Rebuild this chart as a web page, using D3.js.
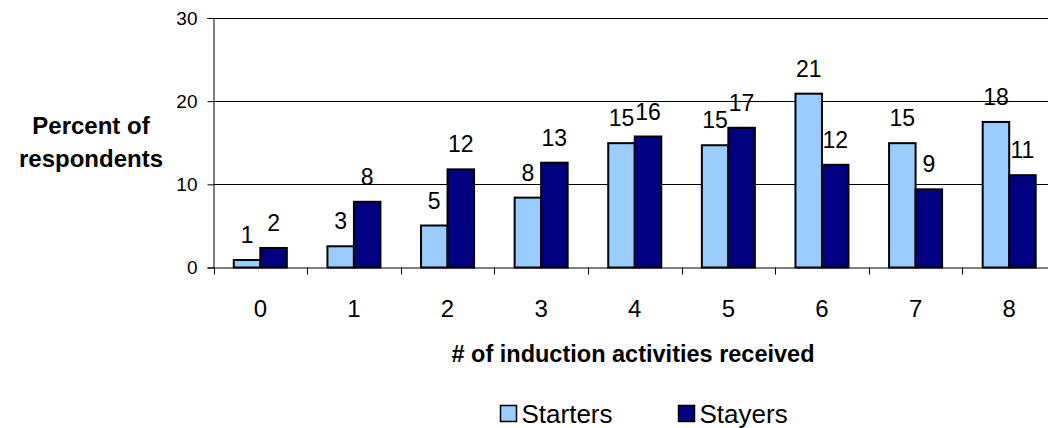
<!DOCTYPE html>
<html>
<head>
<meta charset="utf-8">
<script src="https://cdn.jsdelivr.net/npm/d3@7"></script>
<style>
  html, body { margin: 0; padding: 0; background: #fff; }
  svg { display: block; font-family: Arial, "Liberation Sans", sans-serif; }
</style>
</head>
<body>
<svg id="chart" width="1048" height="428"></svg>
<script>
// Induction activities received, by group (percent of respondents)
const categories = ["0", "1", "2", "3", "4", "5", "6", "7", "8"];
const seriesNames = ["Starters", "Stayers"];
const starters = [0.9, 2.55, 5.05, 8.4, 14.95, 14.7, 20.9, 14.95, 17.5];
const stayers  = [2.35, 7.9, 11.8, 12.6, 15.75, 16.8, 12.35, 9.4, 11.1];
const yTicks = [0, 10, 20, 30];
const colors = ["#99CCFF", "#000080"];

const svg = d3.select("#chart");
const plot = { left: 213.5, top: 18, right: 1056, bottom: 267.5 };

const x = d3.scaleBand().domain(categories).range([plot.left, plot.right]).paddingInner(0).paddingOuter(0);
const inner = d3.scaleBand().domain(seriesNames).range([20.3, x.bandwidth() - 20.3]).padding(0);
const y = d3.scaleLinear().domain([0, 30]).range([plot.bottom, plot.top]);

// horizontal gridlines
svg.append("g")
  .selectAll("line")
  .data(yTicks.filter(d => d > 0))
  .join("line")
  .attr("x1", plot.left).attr("x2", plot.right)
  .attr("y1", d => Math.round(y(d)) + 0.5).attr("y2", d => Math.round(y(d)) + 0.5)
  .attr("stroke", "#000").attr("stroke-width", 1);

// y axis
const yAxis = svg.append("g")
  .attr("transform", `translate(${plot.left},0)`)
  .call(d3.axisLeft(y).tickValues(yTicks).tickSize(6).tickPadding(10).tickFormat(d3.format("d")));
yAxis.select(".domain").attr("stroke", "#000");
yAxis.selectAll("text").attr("font-size", 19).attr("fill", "#000").attr("font-family", "Arial, 'Liberation Sans', sans-serif");

// x axis (ticks at category boundaries)
const xAxisG = svg.append("g").attr("transform", `translate(0,${plot.bottom})`);
xAxisG.append("line")
  .attr("x1", plot.left).attr("x2", plot.right)
  .attr("y1", 0.5).attr("y2", 0.5).attr("stroke", "#000");
xAxisG.selectAll("line.tick")
  .data(categories)
  .join("line")
  .attr("class", "tick")
  .attr("x1", d => Math.round(x(d)) + 0.5).attr("x2", d => Math.round(x(d)) + 0.5)
  .attr("y1", 0).attr("y2", 7).attr("stroke", "#000");
xAxisG.selectAll("text")
  .data(categories)
  .join("text")
  .attr("x", d => x(d) + x.bandwidth() / 2)
  .attr("y", 49)
  .attr("text-anchor", "middle")
  .attr("font-size", 24)
  .text(d => d);

// bars
const rows = categories.map((c, i) => ({ cat: c, values: [starters[i], stayers[i]] }));
const groups = svg.append("g").selectAll("g")
  .data(rows)
  .join("g")
  .attr("transform", d => `translate(${x(d.cat)},0)`);

groups.selectAll("rect")
  .data(d => d.values.map((v, k) => ({ name: seriesNames[k], v, k })))
  .join("rect")
  .attr("x", d => inner(d.name))
  .attr("width", inner.bandwidth())
  .attr("y", d => y(d.v))
  .attr("height", d => y(0) - y(d.v))
  .attr("fill", d => colors[d.k])
  .attr("stroke", "#000")
  .attr("stroke-width", 2);

// value labels
const fmt = d3.format(".0f");
groups.selectAll("text")
  .data(d => d.values.map((v, k) => ({ name: seriesNames[k], v, k })))
  .join("text")
  .attr("x", d => inner(d.name) + inner.bandwidth() / 2)
  .attr("y", d => y(d.v) - 17)
  .attr("text-anchor", "middle")
  .attr("font-size", 23)
  .text(d => fmt(d.v));

// y axis title
const yTitle = svg.append("text")
  .attr("text-anchor", "middle")
  .attr("font-size", 24)
  .attr("font-weight", "bold");
yTitle.append("tspan").attr("x", 91).attr("y", 134).text("Percent of");
yTitle.append("tspan").attr("x", 91).attr("y", 167).text("respondents");

// x axis title
svg.append("text")
  .attr("x", 633).attr("y", 361.5)
  .attr("text-anchor", "middle")
  .attr("font-size", 23.5)
  .attr("font-weight", "bold")
  .text("# of induction activities received");

// legend
const legendX = [500.5, 678.5];
const legend = svg.append("g").selectAll("g")
  .data(seriesNames)
  .join("g")
  .attr("transform", (d, i) => `translate(${legendX[i]},405.5)`);
legend.append("rect")
  .attr("width", 16).attr("height", 16)
  .attr("fill", (d, i) => colors[i])
  .attr("stroke", "#000").attr("stroke-width", 1.5);
legend.append("text")
  .attr("x", 21).attr("y", 17)
  .attr("font-size", 26)
  .text(d => d);
</script>
</body>
</html>
